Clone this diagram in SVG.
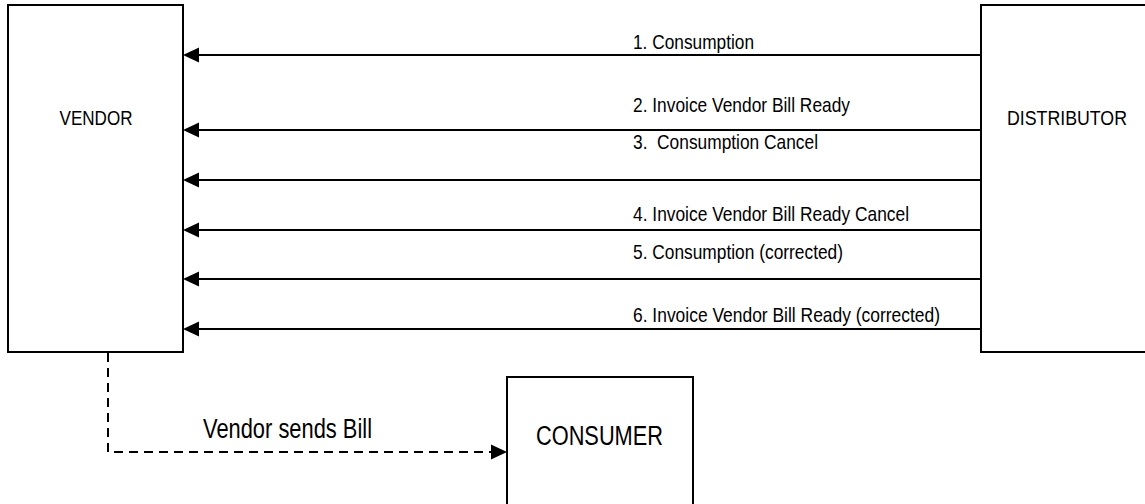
<svg xmlns="http://www.w3.org/2000/svg" width="1145" height="504" viewBox="0 0 1145 504">
<style>
.box{fill:#fff;stroke:#000;stroke-width:2}
.t{font-family:"Liberation Sans Narrow","Arial Narrow","Liberation Sans",Arial,sans-serif;fill:#000}
.lbl{font-size:21px}
.big{font-size:27px}
.ln{stroke:#000;stroke-width:2;fill:none}
.dash{stroke:#000;stroke-width:2;fill:none;stroke-dasharray:9 6}
.head{fill:#000}
</style>
<rect width="1145" height="504" fill="#fff"/>
<g id="vendor">
<rect class="box" x="8" y="5" width="175" height="347"/>
<text class="t lbl" x="59.5" y="125" textLength="73" lengthAdjust="spacingAndGlyphs">VENDOR</text>
</g>
<g id="distributor">
<rect class="box" x="981" y="5" width="180" height="347"/>
<text class="t lbl" x="1007" y="125" textLength="120" lengthAdjust="spacingAndGlyphs">DISTRIBUTOR</text>
</g>
<g id="consumer">
<rect class="box" x="507" y="377" width="186" height="140"/>
<text class="t big" x="536" y="445" textLength="127" lengthAdjust="spacingAndGlyphs">CONSUMER</text>
</g>
<g id="connectors">
<line class="ln" x1="981" y1="55" x2="198" y2="55"/>
<polygon class="head" points="183,55 199,47.5 199,62.5"/>
<line class="ln" x1="981" y1="130" x2="198" y2="130"/>
<polygon class="head" points="183,130 199,122.5 199,137.5"/>
<line class="ln" x1="981" y1="180" x2="198" y2="180"/>
<polygon class="head" points="183,180 199,172.5 199,187.5"/>
<line class="ln" x1="981" y1="230" x2="198" y2="230"/>
<polygon class="head" points="183,230 199,222.5 199,237.5"/>
<line class="ln" x1="981" y1="279" x2="198" y2="279"/>
<polygon class="head" points="183,279 199,271.5 199,286.5"/>
<line class="ln" x1="981" y1="329" x2="198" y2="329"/>
<polygon class="head" points="183,329 199,321.5 199,336.5"/>
<path class="dash" d="M108 353 V452 H492"/>
<polygon class="head" points="507,452 491,444.5 491,459.5"/>
<text class="t lbl" x="633" y="49" textLength="121" lengthAdjust="spacingAndGlyphs">1. Consumption</text>
<text class="t lbl" x="633" y="112" textLength="217" lengthAdjust="spacingAndGlyphs">2. Invoice Vendor Bill Ready</text>
<text class="t lbl" x="633" y="149" textLength="185" lengthAdjust="spacingAndGlyphs" xml:space="preserve" style="white-space:pre">3.  Consumption Cancel</text>
<text class="t lbl" x="633" y="221" textLength="276" lengthAdjust="spacingAndGlyphs">4. Invoice Vendor Bill Ready Cancel</text>
<text class="t lbl" x="633" y="259" textLength="210" lengthAdjust="spacingAndGlyphs">5. Consumption (corrected)</text>
<text class="t lbl" x="633" y="322" textLength="307" lengthAdjust="spacingAndGlyphs">6. Invoice Vendor Bill Ready (corrected)</text>
<text class="t big" x="203" y="438" textLength="169" lengthAdjust="spacingAndGlyphs">Vendor sends Bill</text>
</g>
</svg>
